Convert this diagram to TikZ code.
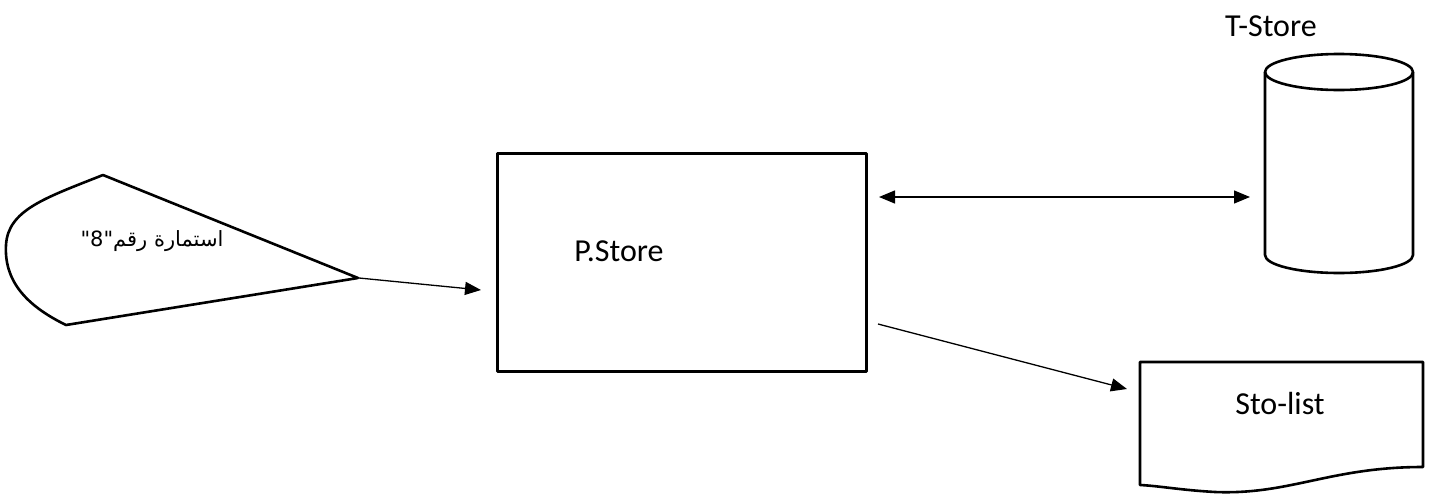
\documentclass[tikz,border=0pt]{standalone}
\usepackage{fontspec}
\setmainfont{Carlito}
\newfontfamily\arabicfont[Script=Arabic]{DejaVu Sans}
\TeXXeTstate=1
\usetikzlibrary{arrows.meta,shapes.geometric}
\begin{document}
\begin{tikzpicture}[x=1pt,y=-1pt,
  shapeline/.style={line width=2.6pt,line join=round},
  conn/.style={line width=1.3pt,-{Triangle[length=16pt,width=13pt]}},
  lbl/.style={font=\fontsize{32}{38}\selectfont,inner sep=0pt}]
\useasboundingbox (0,0) rectangle (1436,498);
% display shape
\draw[shapeline] (103,175) -- (358,278) -- (66,325)
  .. controls (25,305) and (4,280) .. (6,245)
  .. controls (8,210) and (45,198) .. (103,175) -- cycle;
\coordinate (disptip) at (359,278);
\node[inner sep=0pt] (formtxt) at (152,241) {\arabicfont\fontsize{21}{26}\selectfont\beginR استمارة رقم"8"\endR};
% process
\node[draw,shapeline,minimum width=369pt,minimum height=218pt,anchor=north west] (proc) at (496,152) {};
\node[lbl] (proctxt) at (619,251) {P.Store};
% cylinder
\draw[shapeline] (1265,72) -- (1265,255) arc[start angle=180,end angle=0,x radius=74,y radius=18] -- (1413,72);
\draw[shapeline] (1339,72) ellipse[x radius=74,y radius=18];
\node[inner sep=0pt,minimum width=150pt,minimum height=200pt] (tstore) at (1339,170) {};
\node[lbl] (tstoretxt) at (1271,26) {T-Store};
% document
\draw[shapeline] (1140,362) -- (1423,362) -- (1423,467)
  .. controls (1330,467) and (1290,495) .. (1215,492)
  .. controls (1180,490) and (1160,486) .. (1140,485) -- cycle;
\node[inner sep=0pt,minimum width=283pt,minimum height=120pt,anchor=north west] (doc) at (1140,362) {};
\node[lbl] (doctxt) at (1280,404) {Sto-list};
% connectors
\coordinate (a1) at (879,197);
\coordinate (a2) at (1250,197);
\draw[line width=1.3pt,{Triangle[length=16pt,width=13pt]}-{Triangle[length=16pt,width=13pt]}] (a1) -- (a2);
\coordinate (pin) at (481,290);
\draw[conn] (disptip) -- (pin);
\coordinate (pout) at (878,324);
\coordinate (din) at (1127,389);
\draw[conn] (pout) -- (din);
\end{tikzpicture}
\end{document}
